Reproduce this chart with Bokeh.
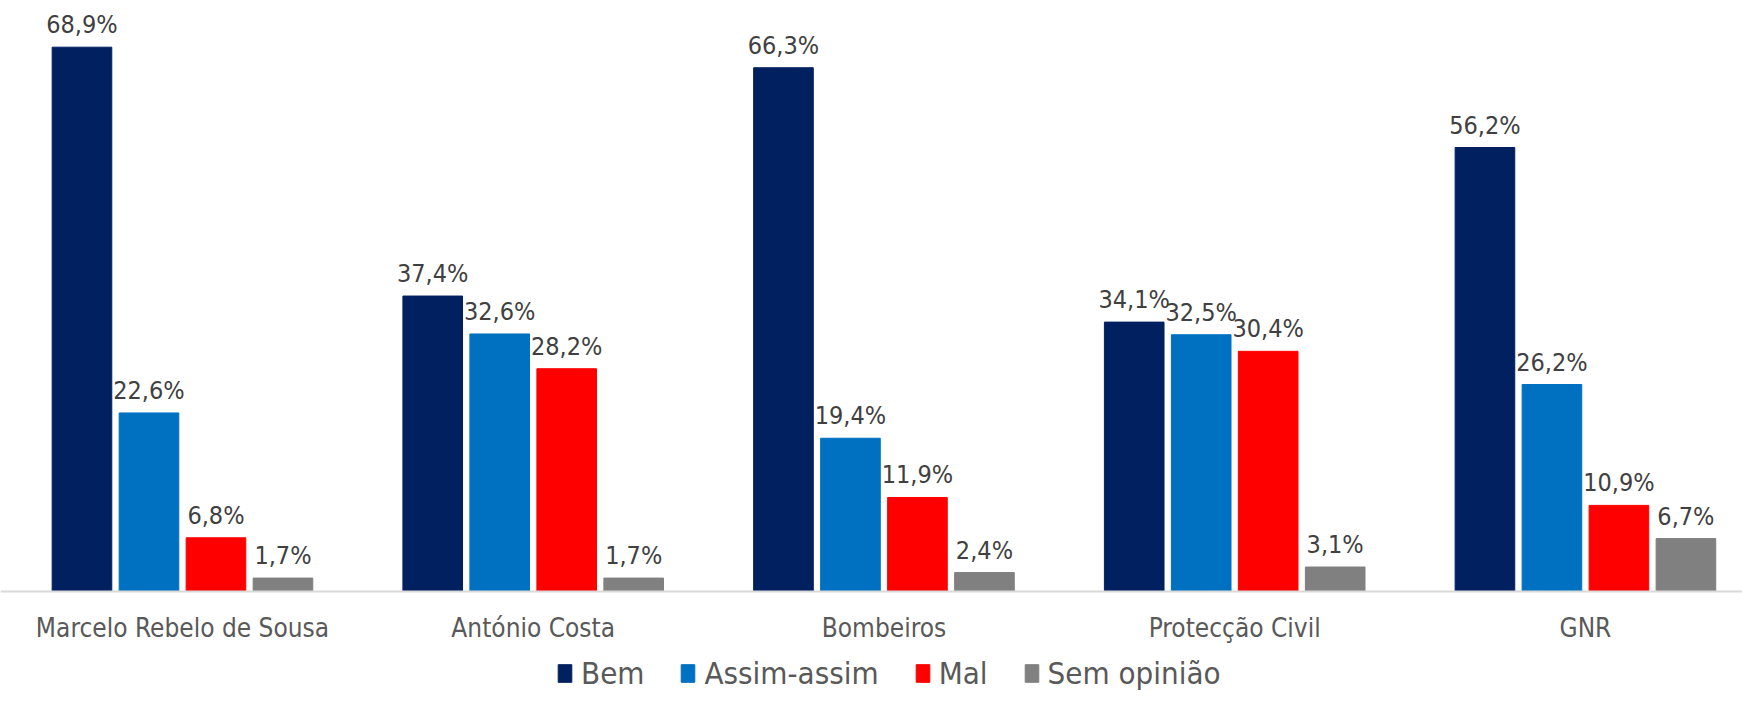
from bokeh.plotting import figure
from bokeh.models import ColumnDataSource, Legend, LegendItem, Range1d, Span
from bokeh.embed import file_html
from bokeh.resources import INLINE
from bokeh.core.properties import value

categories = ["Marcelo Rebelo de Sousa", "António Costa", "Bombeiros", "Protecção Civil", "GNR"]
series = ["Bem", "Assim-assim", "Mal", "Sem opinião"]
bem = [68.9, 37.4, 66.3, 34.1, 56.2]
assim = [22.6, 32.6, 19.4, 32.5, 26.2]
mal = [6.8, 28.2, 11.9, 30.4, 10.9]
sem = [1.7, 1.7, 2.4, 3.1, 6.7]
colors = ["#002060", "#0070C0", "#FF0000", "#808080"]

FONT = "DejaVu Sans Condensed"
W, H = 1742, 691
PX_PER_UNIT = 7.9
BASE = 591  # pixels from top of frame to the zero line

p = figure(width=W, height=H, output_backend="svg", toolbar_location=None,
           x_range=Range1d(-0.0188, 4.9478),
           y_range=Range1d(-(H - BASE) / PX_PER_UNIT, BASE / PX_PER_UNIT))
p.min_border_left = 0
p.min_border_right = 0
p.min_border_top = 0
p.min_border_bottom = 0
p.outline_line_color = None
p.grid.visible = False
p.axis.visible = False
p.background_fill_color = "white"
p.border_fill_color = "white"

# baseline axis line
p.add_layout(Span(location=0, dimension="width", line_color="#d9d9d9", line_width=2))

# category labels
cat_src = ColumnDataSource(dict(x=[i + 0.5 for i in range(len(categories))], y=[0] * len(categories),
                                text=categories))
p.text(x="x", y="y", text="text", source=cat_src, text_align="center", text_baseline="middle",
       y_offset=36, text_font=value(FONT), text_font_size="26px", text_color="#595959")

offsets = [-0.2865, -0.0955, 0.0955, 0.2865]
bw = 0.17
items = []
for vals, name, col, off in zip([bem, assim, mal, sem], series, colors, offsets):
    src = ColumnDataSource(dict(
        x=[i + 0.5 + off for i in range(len(categories))],
        top=vals,
        label=[f"{v:.1f}".replace(".", ",") + "%" for v in vals],
    ))
    r = p.vbar(x="x", top="top", width=bw, bottom=0, source=src, fill_color=col, line_color=col)
    p.text(x="x", y="top", text="label", source=src, text_align="center", text_baseline="bottom",
           y_offset=-8, text_font=value(FONT), text_font_size="25px", text_color="#404040")
    items.append(LegendItem(label=name, renderers=[r]))

legend = Legend(items=items, orientation="horizontal", location=(556, 0),
                label_text_font=FONT, label_text_font_size="31px", label_text_color="#595959",
                glyph_width=17, glyph_height=22, spacing=35, label_standoff=8,
                border_line_color=None, background_fill_alpha=0, padding=0, margin=0)
p.add_layout(legend)

open("out.html", "w").write(file_html(p, INLINE))
